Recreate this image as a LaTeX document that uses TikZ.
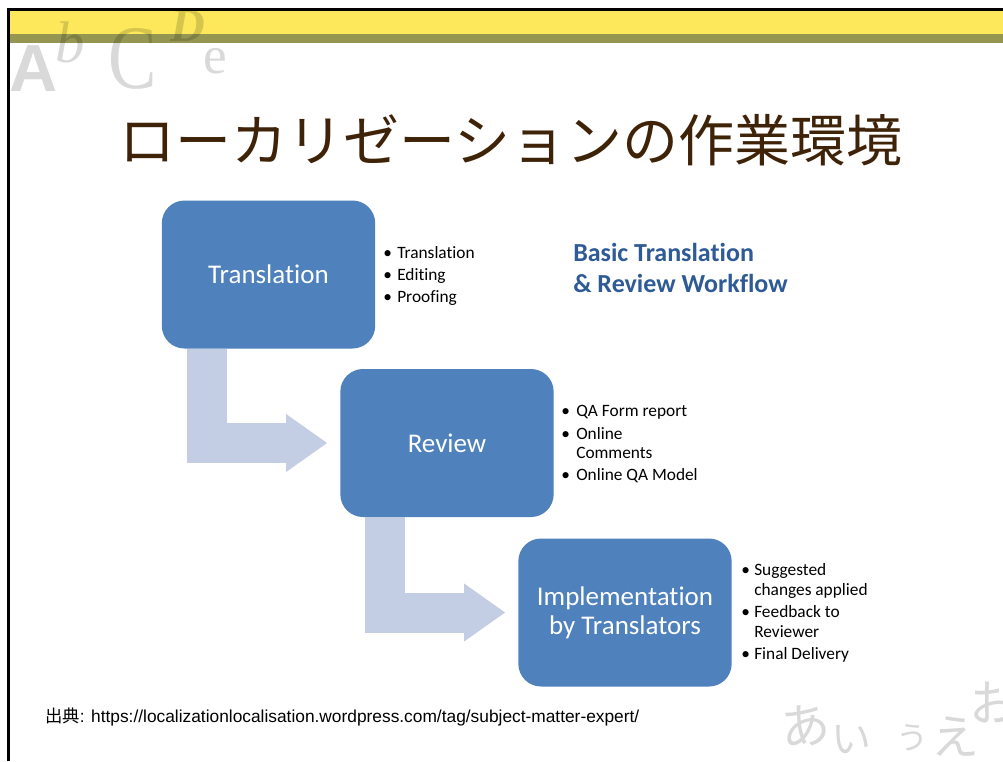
\documentclass[tikz,border=0pt]{standalone}
\usepackage{fontspec}
\setmainfont{Carlito}[Ligatures=NoCommon]
\newfontfamily\jp{Noto Sans CJK JP}
\newfontfamily\lib{Liberation Sans}
\newfontfamily\libserif{Liberation Serif}
\usetikzlibrary{arrows.meta,calc}
\definecolor{boxblue}{HTML}{4F81BD}
\definecolor{arrowblue}{HTML}{C3CDE3}
\definecolor{bandyellow}{HTML}{FCE85A}
\definecolor{bandolive}{HTML}{949652}
\definecolor{titlebrown}{HTML}{3F2308}
\definecolor{headblue}{HTML}{2E5A95}
\tikzset{
  stepbox/.style={rounded corners=17pt, fill=boxblue, minimum width=160pt, minimum height=111pt,
    inner sep=0pt, text=white, font=\fontsize{20.25pt}{21.75pt}\selectfont, align=center},
  flowarrow/.style={draw=arrowblue, line width=30pt, line join=miter,
    -{Triangle[length=30.75pt,width=43.5pt,line width=0pt]}, shorten >=9.75pt},
  listtext/.style={anchor=base west, inner sep=0pt, font=\fontsize{13pt}{15pt}\selectfont},
  headtext/.style={anchor=base west, inner sep=0pt, text=headblue, font=\bfseries\fontsize{19.5pt}{23pt}\selectfont},
  deco/.style={inner sep=0pt, text=black, text opacity=0.15},
}
\begin{document}
\begin{tikzpicture}[x=0.75pt,y=-0.75pt]
\useasboundingbox (0,0) rectangle (1003,761);
\fill[white] (0,0) rectangle (1003,761);
% header bands
\fill[bandyellow] (10,11) rectangle (1003,34);
\fill[bandolive] (10,34) rectangle (1003,42.5);
% decorative letters
\node[deco, anchor=base west, font=\lib\bfseries\fontsize{50pt}{50pt}\selectfont] (dA) at (9,91) {A};
\node[deco, anchor=base west, font=\libserif\itshape\fontsize{44pt}{44pt}\selectfont] (db) at (55,62) {b};
\node[deco, anchor=base west, font=\libserif\fontsize{68pt}{68pt}\selectfont] (dC) at (108,88) {\scalebox{0.8}[1]{C}};
\node[deco, anchor=base west, font=\libserif\bfseries\itshape\fontsize{36pt}{36pt}\selectfont] (dD) at (170,41) {D};
\node[deco, anchor=base west, font=\libserif\fontsize{40pt}{40pt}\selectfont] (de) at (203,73) {e};
\node[deco, font=\jp\fontsize{37pt}{37pt}\selectfont, rotate=8] (ha) at (805,726) {あ};
\node[deco, font=\jp\fontsize{30pt}{30pt}\selectfont] (hi) at (851,740) {い};
\node[deco, font=\jp\fontsize{24pt}{24pt}\selectfont] (hu) at (912,738) {う};
\node[deco, font=\jp\fontsize{36pt}{36pt}\selectfont] (he) at (955,737) {え};
\node[deco, font=\jp\fontsize{37pt}{37pt}\selectfont] (ho) at (994,703) {お};
% border
\draw[line width=2.25pt] (8.5,761) -- (8.5,9.5) -- (1003,9.5);
% title
\node[font=\jp\fontsize{42pt}{42pt}\selectfont, text=titlebrown, inner sep=0pt] (title) at (511,140) {ローカリゼーションの作業環境};
% boxes
\node[stepbox] (t1) at (268.5,274.5) {Translation};
\node[stepbox] (t2) at (447,443) {Review};
\node[stepbox] (t3) at (625,612.5) {Implementation\\by Translators};
% arrows
\draw[flowarrow] ($(t1.south west)+(45,0)$) |- (t2.west);
\draw[flowarrow] ($(t2.south west)+(45,0)$) |- (t3.west);
% list 1
\node[listtext] (b11) at (383,258) {\textbullet};
\node[listtext] (l11) at (397,258) {Translation};
\node[listtext] (b12) at (383,280) {\textbullet};
\node[listtext] (l12) at (397,280) {Editing};
\node[listtext] (b13) at (383,302) {\textbullet};
\node[listtext] (l13) at (397,302) {Proofing};
% list 2
\node[listtext] (b21) at (561,416) {\textbullet};
\node[listtext] (l21) at (576,416) {QA Form report};
\node[listtext] (b22) at (561,439) {\textbullet};
\node[listtext] (l22) at (576,439) {Online};
\node[listtext] (l22b) at (576,458) {Comments};
\node[listtext] (b23) at (561,480) {\textbullet};
\node[listtext] (l23) at (576,480) {Online QA Model};
% list 3
\node[listtext] (b31) at (741,575) {\textbullet};
\node[listtext] (l31) at (754,575) {Suggested};
\node[listtext] (l31b) at (754,595) {changes applied};
\node[listtext] (b32) at (741,617) {\textbullet};
\node[listtext] (l32) at (754,617) {Feedback to};
\node[listtext] (l32b) at (754,637) {Reviewer};
\node[listtext] (b33) at (741,659) {\textbullet};
\node[listtext] (l33) at (754,659) {Final Delivery};
% heading
\node[headtext] (h1) at (573,261) {Basic Translation};
\node[headtext] (h2) at (573,292) {\& Review Workflow};
% source
\node[anchor=base west, inner sep=0pt, font=\fontsize{13pt}{15pt}\selectfont] (src) at (45,722)
  {{\jp 出典}\lib: https://localizationlocalisation.wordpress.com/tag/subject-matter-expert/};
\end{tikzpicture}
\end{document}
